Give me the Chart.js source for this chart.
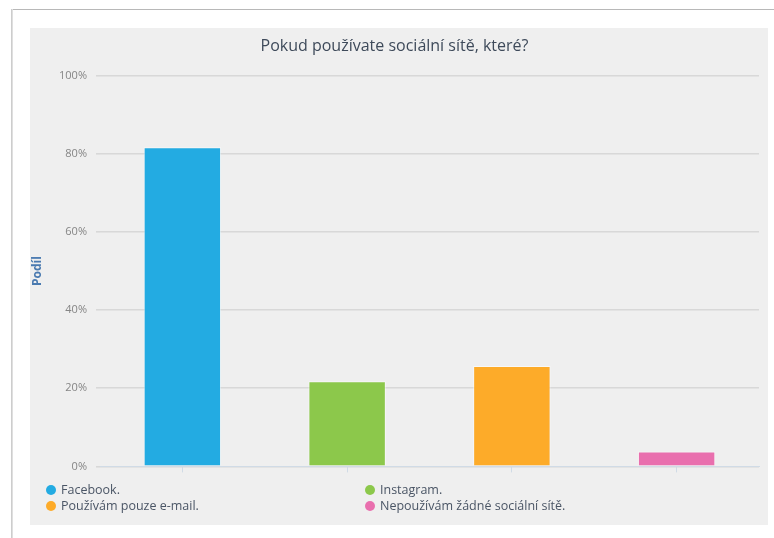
<!DOCTYPE html>
<html><head><meta charset="utf-8">
<script src="https://cdn.jsdelivr.net/npm/chart.js@4"></script>
<style>
html,body{margin:0;padding:0;background:#fff;width:774px;height:538px;overflow:hidden;font-family:"Open Sans",sans-serif;}
#frameTop{position:absolute;left:12px;top:9px;width:762px;height:1px;background:#b8b8b8;}
#frameLeft{position:absolute;left:11px;top:9px;width:2px;height:529px;background:linear-gradient(to right,#c4c4c4,#e8e8e8);}
#panel{position:absolute;left:30px;top:28px;width:738px;height:497px;background:#efefef;}
#wrap{position:absolute;left:0;top:0;width:738px;height:454px;}
#legend{position:absolute;left:0;top:454px;width:738px;font-size:12.5px;color:#4a5565;}
.li{position:absolute;white-space:nowrap;line-height:16px;}
.dot{display:inline-block;width:10px;height:10px;border-radius:50%;margin-right:5px;vertical-align:-1px;}
</style></head>
<body>
<div id="frameTop"></div><div id="frameLeft"></div>
<div id="panel"><div id="wrap"><canvas id="c"></canvas></div><div id="legend"></div></div>
<script>
const categories = ["Facebook.", "Instagram.", "Používám pouze e-mail.", "Nepoužívám žádné sociální sítě."];
const values = [81.7, 21.8, 25.7, 3.8];
const colors = ["#23abe2", "#8cc84b", "#fdab29", "#e96fae"];
const yTicks = [0, 20, 40, 60, 80, 100];
const chartTitle = "Pokud používate sociální sítě, které?";
const yTitle = "Podíl";

new Chart(document.getElementById('c'), {
  type: 'bar',
  data: {
    labels: categories,
    datasets: [{
      data: values,
      backgroundColor: colors,
      borderColor: 'rgba(255,255,255,0.55)',
      borderWidth: 1,
      barPercentage: 0.47,
      categoryPercentage: 1
    }]
  },
  options: {
    responsive: true,
    maintainAspectRatio: false,
    animation: false,
    layout: { padding: { left: 0, right: 9, top: 0, bottom: 0 } },
    plugins: {
      legend: { display: false },
      tooltip: { enabled: false },
      title: {
        display: true,
        text: chartTitle,
        color: '#3e4a5a',
        font: { family: '"Open Sans", sans-serif', size: 16, weight: 'normal' },
        padding: { top: 9, bottom: 19.5 }
      }
    },
    scales: {
      x: {
        grid: { drawOnChartArea: false, drawTicks: true, tickLength: 6, offset: false, color: '#d0dbe6' },
        border: { color: '#d0dbe6', width: 1 },
        ticks: { callback: () => '', padding: 0 },
        afterFit: s => { s.height = 11; }
      },
      y: {
        min: 0, max: 100,
        afterBuildTicks: s => { s.ticks = yTicks.map(v => ({ value: v })); },
        grid: { color: '#d8d8d8', lineWidth: 1.6, drawTicks: true, tickLength: 4 },
        border: { display: false },
        ticks: {
          callback: v => v + '%',
          color: '#858585',
          padding: 9,
          font: { family: '"Open Sans", sans-serif', size: 11 }
        },
        title: {
          display: true,
          text: yTitle,
          color: '#4a7ab0',
          padding: { top: 0, bottom: 0 },
          font: { family: '"Open Sans", sans-serif', size: 12, weight: 'bold' }
        },
        afterFit: s => { s.width = 70; }
      }
    }
  }
});

const legend = document.getElementById('legend');
const pos = [[16, 0], [335, 0], [16, 16], [335, 16]];
categories.forEach((c, i) => {
  const d = document.createElement('div');
  d.className = 'li';
  d.style.left = pos[i][0] + 'px';
  d.style.top = pos[i][1] + 'px';
  d.innerHTML = '<span class="dot" style="background:' + colors[i] + '"></span>';
  d.appendChild(document.createTextNode(c));
  legend.appendChild(d);
});
</script>
</body></html>
